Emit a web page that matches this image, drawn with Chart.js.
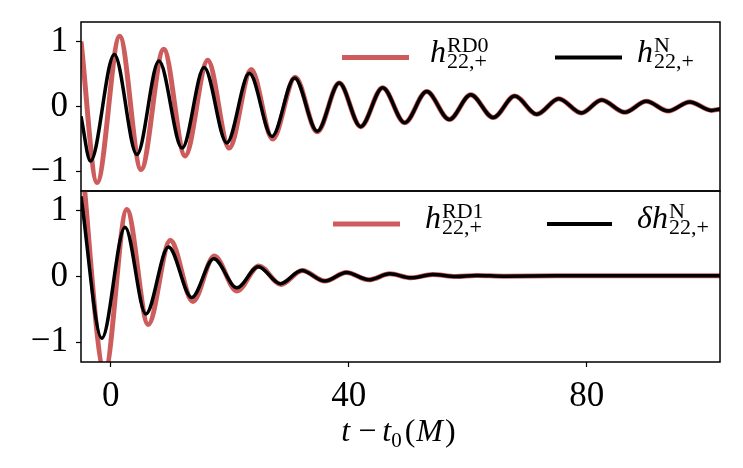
<!DOCTYPE html>
<html>
<head>
<meta charset="utf-8">
<script src="https://cdn.jsdelivr.net/npm/chart.js@4"></script>
<style>
html, body { margin: 0; padding: 0; background: #fff; }
#wrap { position: relative; width: 743px; height: 468px; }
canvas { position: absolute; left: 0; }
</style>
</head>
<body>
<div id="wrap">
<canvas id="top" width="743" height="192" style="top:0px"></canvas>
<canvas id="bottom" width="743" height="278" style="top:190px"></canvas>
</div>
<script>
// values (extrema of each trace)
const topT_N = [-5, -3.4, 0.6, 4.4, 8.1, 12.0, 15.7, 19.5, 23.3, 27.1, 30.9, 34.7, 38.4, 42.0, 45.7, 49.4, 53.1, 56.9, 60.5, 64.3, 67.9, 71.6, 75.3, 79.1, 82.5, 86.4, 90.0, 93.7, 97.3, 101.0, 102.4];
const topH_N = [-0.15, -0.84, 0.80, -0.74, 0.70, -0.64, 0.60, -0.56, 0.51, -0.46, 0.44, -0.38, 0.36, -0.31, 0.29, -0.25, 0.23, -0.20, 0.18, -0.17, 0.16, -0.12, 0.12, -0.10, 0.10, -0.09, 0.08, -0.07, 0.07, -0.06, -0.04];

const topT_RD0 = [-5, -2.3, 1.5, 5.1, 8.9, 12.5, 16.3, 19.9, 23.6, 27.2, 31.0, 34.7, 38.4, 42.0, 45.7, 49.4, 53.1, 56.9, 60.5, 64.3, 67.9, 71.6, 75.3, 79.1, 82.5, 86.4, 90.0, 93.7, 97.3, 101.0, 102.4];
const topH_RD0 = [1.0, -1.17, 1.08, -0.97, 0.88, -0.76, 0.71, -0.64, 0.57, -0.50, 0.45, -0.39, 0.36, -0.31, 0.29, -0.25, 0.23, -0.20, 0.18, -0.17, 0.16, -0.12, 0.12, -0.10, 0.10, -0.09, 0.08, -0.07, 0.07, -0.06, -0.04];

const botT_dN = [-5, -1.5, 2.4, 5.9, 9.7, 13.6, 17.3, 21.2, 24.8, 28.5, 32.1, 36.0, 39.6, 43.4, 46.9, 50.5, 54.1, 58.0, 61.5, 66, 75, 85, 95, 102.4];
const botH_dN = [1.22, -0.94, 0.75, -0.57, 0.45, -0.32, 0.27, -0.17, 0.15, -0.11, 0.09, -0.07, 0.06, -0.05, 0.04, -0.02, 0.03, 0.0, 0.015, 0.005, 0.01, 0.01, 0.01, 0.01];

const botT_RD1 = [-5, -1.0, 2.7, 6.3, 10.0, 13.8, 17.4, 21.2, 24.9, 28.6, 32.2, 36.0, 39.6, 43.4, 46.9, 50.5, 54.1, 58.0, 61.5, 66, 75, 85, 95, 102.4];
const botH_RD1 = [1.9, -1.45, 1.02, -0.73, 0.55, -0.38, 0.31, -0.22, 0.16, -0.12, 0.09, -0.07, 0.06, -0.05, 0.04, -0.02, 0.03, 0.0, 0.015, 0.005, 0.01, 0.01, 0.01, 0.01];

const xTicks = [0, 40, 80];
const yTicks = [-1, 0, 1];
const xRange = [-5, 102.4];
const yRange = [-1.3, 1.3];

const RED = "#CD5C5C";
const SERIF = "'Liberation Serif', 'DejaVu Serif', serif";


function pts(xs, ys) {
    return xs.map((x, i) => ({ x: x, y: ys[i] }));
}

function line(xs, ys, color, w) {
    return {
        data: pts(xs, ys),
        borderColor: color,
        borderWidth: w,
        pointRadius: 0,
        fill: false,
        cubicInterpolationMode: "monotone",
        borderJoinStyle: "round",
        clip: 0
    };
}


// box round the axes, drawn over the lines like matplotlib spines
const boxPlugin = {
    id: "box",
    afterDatasetsDraw(chart) {
        const a = chart.chartArea;
        const ctx = chart.ctx;
        ctx.save();
        ctx.strokeStyle = "#000";
        ctx.lineWidth = 1.5;
        ctx.strokeRect(a.left, a.top, a.right - a.left, a.bottom - a.top);
        ctx.restore();
    }
};


// legend with super/subscripts
const mathLegend = {
    id: "mathLegend",
    afterDraw(chart, args, opts) {
        const ctx = chart.ctx;
        (opts.items || []).forEach(it => {
            ctx.save();
            ctx.strokeStyle = it.color;
            ctx.lineWidth = it.width;
            ctx.beginPath();
            ctx.moveTo(it.x0, it.y);
            ctx.lineTo(it.x1, it.y);
            ctx.stroke();

            ctx.fillStyle = "#000";
            ctx.textBaseline = "alphabetic";
            ctx.textAlign = "left";
            ctx.font = "italic 32px " + SERIF;
            let x = it.tx;
            const label = it.pre + "h";
            ctx.fillText(label, x, it.y + 4);
            x += ctx.measureText(label).width + 1;

            ctx.font = "22px " + SERIF;
            ctx.fillText(it.sup, x, it.y - 6);
            ctx.fillText(it.sub, x, it.y + 10);
            ctx.restore();
        });
    }
};


// x axis title  t - t0(M)
const xTitle = {
    id: "xTitle",
    afterDraw(chart, args, opts) {
        if (!opts.show) return;
        const ctx = chart.ctx;
        const pieces = [
            ["t", "italic 32px", 0, 8],
            ["\u2212", "32px", 0, 6],
            ["t", "italic 32px", 0, 0],
            ["0", "21px", 6, 3],
            ["(", "32px", 0, 1],
            ["M", "italic 32px", 0, 2],
            [")", "32px", 0, 0]
        ];
        ctx.save();
        ctx.fillStyle = "#000";
        ctx.textBaseline = "alphabetic";
        let total = 0;
        pieces.forEach(p => {
            ctx.font = p[1] + " " + SERIF;
            total += ctx.measureText(p[0]).width + p[3];
        });
        const a = chart.chartArea;
        let x = (a.left + a.right) / 2 - 2 - total / 2;
        pieces.forEach(p => {
            ctx.font = p[1] + " " + SERIF;
            ctx.fillText(p[0], x, opts.y + p[2]);
            x += ctx.measureText(p[0]).width + p[3];
        });
        ctx.restore();
    }
};


function makePanel(canvas, datasets, showX, pad, legendItems, titleY) {

    return new Chart(canvas, {
        type: "line",
        data: { datasets: datasets },
        options: {
            responsive: false,
            animation: false,
            devicePixelRatio: 1,
            layout: { padding: pad },
            plugins: {
                legend: { display: false },
                tooltip: { enabled: false },
                mathLegend: { items: legendItems },
                xTitle: { show: showX, y: titleY }
            },
            scales: {
                x: {
                    type: "linear",
                    min: xRange[0],
                    max: xRange[1],
                    display: showX,
                    afterBuildTicks: s => { s.ticks = xTicks.map(v => ({ value: v })); },
                    afterFit: s => {
                        if (showX) s.height = 106;
                        s.paddingLeft = 0;
                        s.paddingRight = 0;
                    },
                    border: { display: false },
                    grid: {
                        drawOnChartArea: false,
                        drawTicks: true,
                        tickLength: 5,
                        tickColor: "#000",
                        tickWidth: 1.2
                    },
                    ticks: {
                        color: "#000",
                        font: { family: SERIF, size: 35 },
                        padding: 9,
                        maxRotation: 0
                    }
                },
                y: {
                    min: yRange[0],
                    max: yRange[1],
                    afterBuildTicks: s => { s.ticks = yTicks.map(v => ({ value: v })); },
                    afterFit: s => {
                        s.width = 81;
                        s.paddingTop = 0;
                        s.paddingBottom = 0;
                    },
                    border: { display: false },
                    grid: {
                        drawOnChartArea: false,
                        drawTicks: true,
                        tickLength: 5,
                        tickColor: "#000",
                        tickWidth: 1.2
                    },
                    ticks: {
                        color: "#000",
                        font: { family: SERIF, size: 35 },
                        padding: 8,
                        autoSkip: false,
                        callback: v => v < 0 ? "\u2212" + Math.abs(v) : String(v)
                    }
                }
            }
        },
        plugins: [boxPlugin, mathLegend, xTitle]
    });
}


makePanel(
    document.getElementById("top"),
    [
        line(topT_N, topH_N, "#000", 3.5),
        line(topT_RD0, topH_RD0, RED, 5)
    ],
    false,
    { top: 22, right: 23, bottom: 1, left: 0 },
    [
        { color: RED, width: 5, x0: 342, x1: 409, y: 57.5, tx: 430, pre: "", sup: "RD0", sub: "22,+" },
        { color: "#000", width: 4, x0: 555, x1: 622, y: 57.5, tx: 637, pre: "", sup: "N", sub: "22,+" }
    ],
    0
);

makePanel(
    document.getElementById("bottom"),
    [
        line(botT_dN, botH_dN, "#000", 3.5),
        line(botT_RD1, botH_RD1, RED, 5)
    ],
    true,
    { top: 1, right: 23, bottom: 0, left: 0 },
    [
        { color: RED, width: 5, x0: 333, x1: 400, y: 34, tx: 425, pre: "", sup: "RD1", sub: "22,+" },
        { color: "#000", width: 4, x0: 547, x1: 612, y: 34, tx: 637, pre: "\u03b4", sup: "N", sub: "22,+" }
    ],
    251
);
</script>
</body>
</html>
